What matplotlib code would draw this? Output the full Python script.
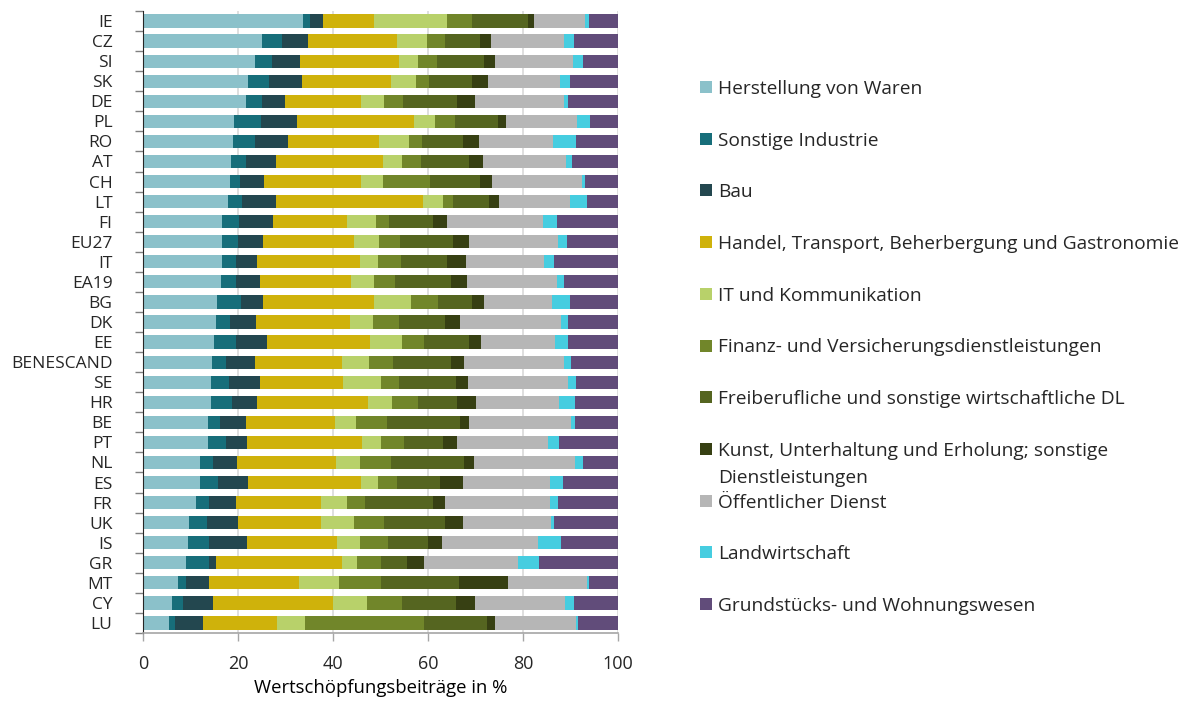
import matplotlib

matplotlib.use("Agg")
import matplotlib.pyplot as plt
from matplotlib.patches import Rectangle
import numpy as np

countries = ["IE", "CZ", "SI", "SK", "DE", "PL", "RO", "AT", "CH", "LT", "FI", "EU27",
             "IT", "EA19", "BG", "DK", "EE", "BENESCAND", "SE", "HR", "BE", "PT", "NL",
             "ES", "FR", "UK", "IS", "GR", "MT", "CY", "LU"]

# Anteile je Sektor in %, Reihenfolge wie countries
herstellung = [33.6, 25.0, 23.6, 22.1, 21.7, 19.2, 19.0, 18.6, 18.3, 17.8, 16.7, 16.7, 16.6, 16.5, 15.5, 15.3,
               15.0, 14.5, 14.4, 14.4, 13.7, 13.6, 12.0, 11.9, 11.2, 9.7, 9.5, 9.0, 7.4, 6.2, 5.5]
sonst_industrie = [1.6, 4.2, 3.5, 4.4, 3.4, 5.6, 4.5, 3.0, 2.2, 3.1, 3.5, 3.2, 3.0, 3.0, 5.2, 3.0,
                   4.6, 2.9, 3.7, 4.4, 2.5, 3.8, 2.7, 3.9, 2.7, 3.8, 4.4, 4.8, 1.7, 2.2, 1.3]
bau = [2.6, 5.6, 5.9, 6.9, 4.7, 7.6, 7.0, 6.5, 4.9, 7.1, 7.2, 5.4, 4.3, 5.2, 4.5, 5.4,
       6.6, 6.1, 6.5, 5.3, 5.4, 4.4, 5.0, 6.2, 5.6, 6.4, 8.0, 1.5, 4.7, 6.3, 5.9]
handel = [10.9, 18.6, 20.9, 18.9, 16.1, 24.7, 19.1, 22.4, 20.5, 31.0, 15.5, 19.2, 21.7, 19.1, 23.5, 19.9,
          21.5, 18.4, 17.5, 23.3, 18.8, 24.3, 20.9, 23.9, 17.9, 17.5, 18.9, 26.5, 19.1, 25.2, 15.6]
it_komm = [15.2, 6.3, 4.0, 5.1, 4.9, 4.3, 6.5, 4.0, 4.6, 4.2, 6.1, 5.2, 3.8, 4.8, 7.8, 4.9,
           6.9, 5.7, 8.1, 5.0, 4.5, 4.0, 5.0, 3.6, 5.5, 7.0, 4.8, 3.2, 8.4, 7.2, 5.8]
finanz = [5.4, 3.9, 3.9, 2.8, 3.9, 4.3, 2.6, 4.1, 10.0, 2.1, 2.8, 4.4, 5.0, 4.5, 5.7, 5.4,
          4.6, 5.0, 3.7, 5.5, 6.5, 4.8, 6.7, 4.0, 3.9, 6.4, 6.0, 5.2, 8.9, 7.5, 25.0]
freiberuflich = [11.8, 7.3, 9.9, 9.1, 11.5, 9.0, 8.7, 10.0, 10.4, 7.6, 9.3, 11.2, 9.7, 11.7, 7.1, 9.7,
                 9.4, 12.2, 11.9, 8.3, 15.3, 8.3, 15.3, 9.1, 14.2, 12.8, 8.4, 5.4, 16.3, 11.3, 13.4]
kunst = [1.3, 2.3, 2.4, 3.3, 3.6, 1.8, 3.3, 2.9, 2.5, 2.1, 3.0, 3.3, 3.9, 3.4, 2.4, 3.1,
         2.6, 2.7, 2.7, 4.0, 2.0, 2.9, 2.1, 4.8, 2.6, 3.7, 2.9, 3.5, 10.3, 4.0, 1.7]
oeffentlich = [10.6, 15.4, 16.4, 15.2, 18.8, 14.9, 15.6, 17.6, 19.1, 14.9, 20.2, 18.8, 16.4, 19.0, 14.5, 21.2,
               15.6, 21.1, 21.0, 17.3, 21.5, 19.1, 21.2, 18.3, 22.0, 18.6, 20.3, 19.9, 16.6, 18.9, 17.0]
landwirtschaft = [0.9, 2.1, 2.2, 2.0, 0.9, 2.7, 4.9, 1.2, 0.6, 3.6, 2.8, 1.8, 2.1, 1.5, 3.7, 1.5,
                  2.7, 1.6, 1.6, 3.5, 0.8, 2.4, 1.7, 2.7, 1.7, 0.6, 4.9, 4.4, 0.5, 2.0, 0.3]
grundstuecke = [6.1, 9.3, 7.3, 10.2, 10.5, 5.9, 8.8, 9.7, 6.9, 6.5, 12.9, 10.8, 13.5, 11.3, 10.1, 10.6,
                10.5, 9.8, 8.9, 9.0, 9.0, 12.4, 7.4, 11.6, 12.7, 13.5, 11.9, 16.6, 6.1, 9.2, 8.5]

sector_names = [
    "Herstellung von Waren",
    "Sonstige Industrie",
    "Bau",
    "Handel, Transport, Beherbergung und Gastronomie",
    "IT und Kommunikation",
    "Finanz- und Versicherungsdienstleistungen",
    "Freiberufliche und sonstige wirtschaftliche DL",
    "Kunst, Unterhaltung und Erholung; sonstige\nDienstleistungen",
    "Öffentlicher Dienst",
    "Landwirtschaft",
    "Grundstücks- und Wohnungswesen",
]
series = [herstellung, sonst_industrie, bau, handel, it_komm, finanz,
          freiberuflich, kunst, oeffentlich, landwirtschaft, grundstuecke]
colors = ["#8bc1ca", "#176e7a", "#23474f", "#cfb20b", "#b8d16a", "#71862a",
          "#556520", "#374013", "#b6b6b6", "#46cde0", "#614c7a"]

plt.rcParams["font.family"] = ["Open Sans", "DejaVu Sans"]
plt.rcParams["font.size"] = 12.5
plt.rcParams["text.color"] = "#262626"

fig = plt.figure(figsize=(11.86, 7.01), dpi=100)
ax = fig.add_axes([143 / 1186, 1 - 633 / 701, 475 / 1186, 622 / 701])

y = np.arange(len(countries))
left = np.zeros(len(countries))
for vals, col in zip(series, colors):
    vals = np.array(vals)
    ax.barh(y, vals, left=left, height=0.66, color=col, edgecolor="none", zorder=2)
    left += vals

ax.set_xlim(0, 100)
ax.set_ylim(len(countries) - 0.5, -0.5)
ax.set_xticks([0, 20, 40, 60, 80, 100])
ax.tick_params(axis="x", length=6, width=1, color="#a6a6a6", labelsize=13,
               labelcolor="#262626", pad=10)
ax.set_yticks(np.arange(len(countries) + 1) - 0.5)
ax.set_yticklabels([])
ax.set_yticks(y, minor=True)
ax.set_yticklabels(countries, minor=True)
ax.tick_params(axis="y", which="major", length=6, width=1, color="#808080")
ax.tick_params(axis="y", which="minor", length=0, labelsize=12.5,
               labelcolor="#262626", pad=22)
ax.grid(axis="x", color="#d9d9d9", lw=1.2, zorder=0)
ax.set_axisbelow(True)
for s in ["top", "right"]:
    ax.spines[s].set_visible(False)
ax.spines["left"].set_color("#262626")
ax.spines["bottom"].set_color("#a6a6a6")
ax.spines["bottom"].set_linewidth(1.2)
ax.set_xlabel("Wertschöpfungsbeiträge in %", fontsize=13.3, labelpad=4)

# Legende rechts
for i, (name, col) in enumerate(zip(sector_names, colors)):
    yc = 87 + i * 51.7
    fig.patches.append(Rectangle((700 / 1186, 1 - (yc + 6) / 701), 12 / 1186, 12 / 701,
                                 transform=fig.transFigure, facecolor=col, edgecolor="none"))
    for k, line in enumerate(name.split("\n")):
        fig.text(718 / 1186, 1 - (yc + 2 + k * 27) / 701, line, va="center", ha="left",
                 fontsize=13.8)

fig.savefig("out.png", dpi=100)
